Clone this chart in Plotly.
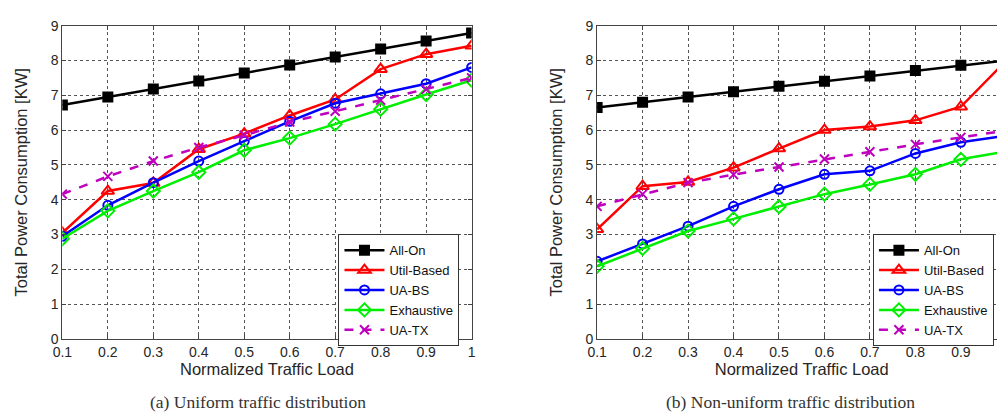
import plotly.graph_objects as go

loads = [0.1, 0.2, 0.3, 0.4, 0.5, 0.6, 0.7, 0.8, 0.9, 1.0]
series_names = ["All-On", "Util-Based", "UA-BS", "Exhaustive", "UA-TX"]

# (a) Uniform traffic distribution
a_all_on = [6.72, 6.95, 7.18, 7.41, 7.64, 7.87, 8.10, 8.33, 8.56, 8.79]
a_util = [3.05, 4.25, 4.48, 5.45, 5.90, 6.42, 6.88, 7.75, 8.18, 8.42]
a_uabs = [2.95, 3.84, 4.49, 5.11, 5.68, 6.25, 6.77, 7.04, 7.33, 7.80]
a_exh = [2.88, 3.68, 4.25, 4.79, 5.42, 5.77, 6.17, 6.60, 7.02, 7.43]
a_uatx = [4.16, 4.67, 5.11, 5.50, 5.85, 6.23, 6.54, 6.86, 7.17, 7.50]

# (b) Non-uniform traffic distribution
b_all_on = [6.65, 6.80, 6.95, 7.10, 7.26, 7.40, 7.55, 7.71, 7.86, 8.00]
b_util = [3.15, 4.39, 4.51, 4.92, 5.47, 6.00, 6.10, 6.28, 6.67, 8.00]
b_uabs = [2.23, 2.73, 3.24, 3.81, 4.30, 4.73, 4.83, 5.33, 5.65, 5.84]
b_exh = [2.09, 2.60, 3.10, 3.45, 3.80, 4.16, 4.44, 4.73, 5.16, 5.39]
b_uatx = [3.81, 4.16, 4.49, 4.72, 4.94, 5.17, 5.38, 5.59, 5.79, 5.99]

y_ticks = [0, 1, 2, 3, 4, 5, 6, 7, 8, 9]
x_ticks = [0.1, 0.2, 0.3, 0.4, 0.5, 0.6, 0.7, 0.8, 0.9, 1.0]
x_tick_labels = ["0.1", "0.2", "0.3", "0.4", "0.5", "0.6", "0.7", "0.8", "0.9", "1"]
captions = ["(a) Uniform traffic distribution", "(b) Non-uniform traffic distribution"]
x_title = "Normalized Traffic Load"
y_title = "Total Power Consumption [KW]"

styles = [
    dict(color="#000000", symbol="square", dash="solid", size=9),
    dict(color="#FF0000", symbol="triangle-up-open", dash="solid", size=11),
    dict(color="#0000FF", symbol="circle-open", dash="solid", size=9),
    dict(color="#00EE00", symbol="diamond-open", dash="solid", size=10),
    dict(color="#BF00BF", symbol="x-thin-open", dash="dash", size=9),
]

fig = go.Figure()
panels = [
    ([a_all_on, a_util, a_uabs, a_exh, a_uatx], "x", "y", "legend"),
    ([b_all_on, b_util, b_uabs, b_exh, b_uatx], "x2", "y2", "legend2"),
]
for data, xa, ya, lg in panels:
    for name, vals, st in zip(series_names, data, styles):
        fig.add_trace(go.Scatter(
            x=loads, y=vals, name=name, xaxis=xa, yaxis=ya, legend=lg,
            mode="lines+markers",
            line=dict(color=st["color"], width=2.5, dash=st["dash"]),
            marker=dict(symbol=st["symbol"], size=st["size"], color=st["color"],
                        line=dict(color=st["color"], width=2)),
        ))

H = 414.0
W = 1005.0
ydom = [1 - 336 / H, 1 - 10 / H]
tickfont = dict(family="Liberation Sans, Arial", size=14, color="#262626")
titlefont = dict(family="Liberation Sans, Arial", size=16.5, color="#262626")

def xaxis(domain, anchor):
    return dict(domain=domain, anchor=anchor, range=[0.1, 1.0], tickvals=x_ticks,
                ticktext=x_tick_labels, ticks="inside", ticklen=4, tickcolor="#444",
                showline=True, linecolor="#444", linewidth=1, mirror="ticks",
                showgrid=True, gridcolor="#555", griddash="dot", gridwidth=1,
                zeroline=False, tickfont=tickfont,
                title=dict(text=x_title, font=titlefont, standoff=0))

def yaxis(domain, anchor):
    return dict(domain=domain, anchor=anchor, range=[0, 9], tickvals=y_ticks,
                ticks="inside", ticklen=4, tickcolor="#444",
                showline=True, linecolor="#444", linewidth=1, mirror="ticks",
                showgrid=True, gridcolor="#555", griddash="dot", gridwidth=1,
                zeroline=False, tickfont=tickfont,
                title=dict(text=y_title, font=titlefont, standoff=18))

legend_common = dict(bgcolor="white", bordercolor="#333", borderwidth=1,
                     font=dict(family="Liberation Sans, Arial", size=13, color="#111"),
                     xanchor="left", yanchor="top", tracegroupgap=0,
                     itemwidth=40)

fig.update_layout(
    width=1005, height=414,
    margin=dict(l=0, r=0, t=0, b=0),
    paper_bgcolor="white", plot_bgcolor="white",
    xaxis=xaxis([45 / W, 460 / W], "y"),
    yaxis=yaxis(ydom, "x"),
    xaxis2=xaxis([587.3 / W, 1002.3 / W], "y2"),
    yaxis2=yaxis(ydom, "x2"),
    legend=dict(x=325 / W, y=1 - 227 / H, **legend_common),
    legend2=dict(x=867 / W, y=1 - 227 / H, **legend_common),
    annotations=[
        dict(text=captions[0], x=243 / W, y=1 - 401 / H, xref="paper", yref="paper",
             xanchor="center", yanchor="middle", showarrow=False,
             font=dict(family="Liberation Serif, Times New Roman", size=17.5, color="#333")),
        dict(text=captions[1], x=783 / W, y=1 - 401 / H, xref="paper", yref="paper",
             xanchor="center", yanchor="middle", showarrow=False,
             font=dict(family="Liberation Serif, Times New Roman", size=17.5, color="#333")),
    ],
)

fig.write_html("out.html")
